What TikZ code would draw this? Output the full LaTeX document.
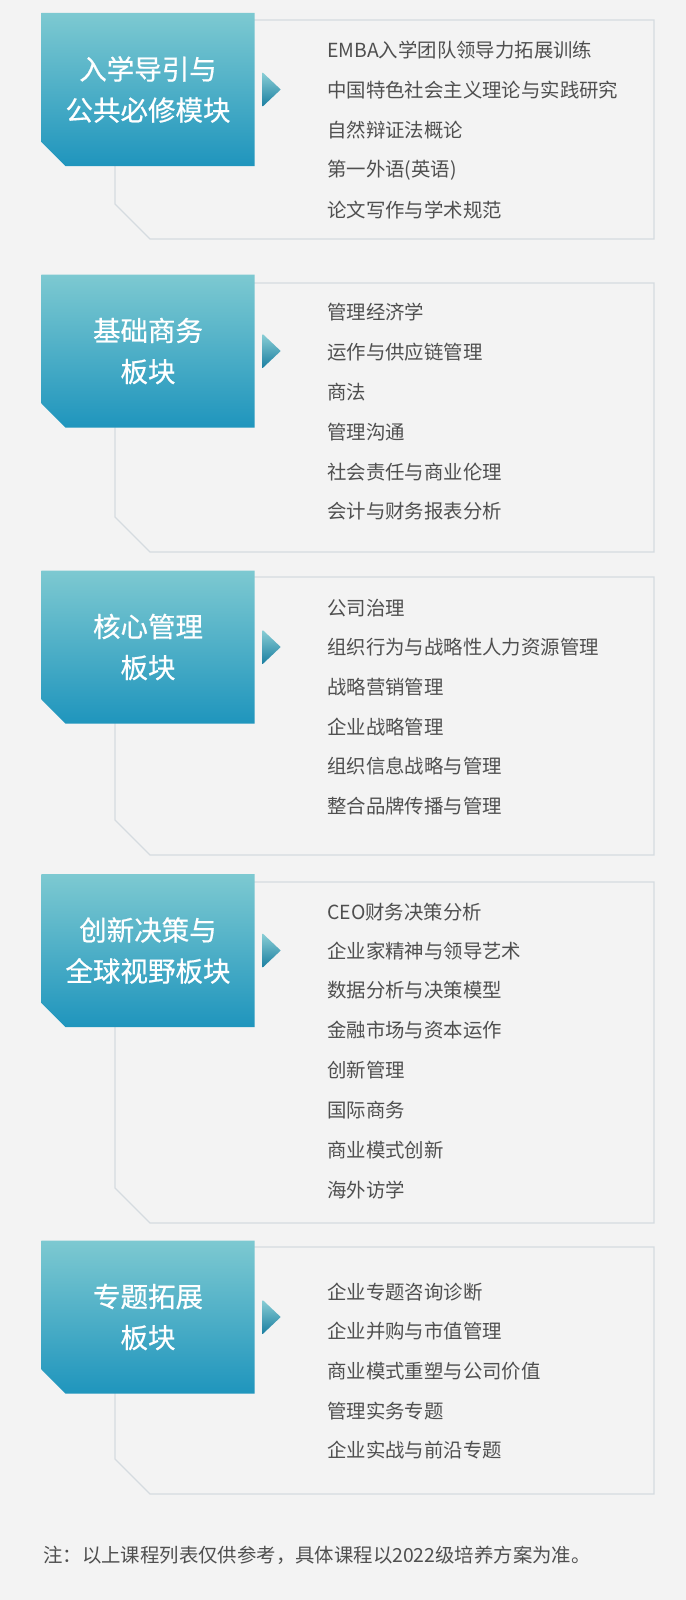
\documentclass[tikz,border=0pt]{standalone}
\usepackage{fontspec}
\setmainfont{Noto Sans CJK SC}
\newfontfamily\titlefont{Noto Sans CJK SC}[FakeBold=0.6]
\usetikzlibrary{shapes.misc,calc}
\definecolor{bggray}{HTML}{F3F3F3}
\definecolor{panelgray}{HTML}{D5DBE0}
\definecolor{tealtop}{HTML}{7DC9D1}
\definecolor{tealbot}{HTML}{1F95BD}
\definecolor{coursegray}{HTML}{4F4F4F}

\begin{document}
\begin{tikzpicture}[x=1bp, y=-1bp,
    every node/.style={inner sep=0pt},
    module/.style={chamfered rectangle, chamfered rectangle corners=south west,
        chamfered rectangle sep=12bp, minimum width=213bp, minimum height=153bp,
        top color=tealtop, bottom color=tealbot, text=white, align=center,
        font=\titlefont\fontsize{27.5bp}{41bp}\selectfont},
    course/.style={anchor=west, text=coursegray, font=\fontsize{19.4bp}{23bp}\selectfont},
    panel/.style={draw=panelgray, line width=1.2bp},
    pointer/.style={top color=tealtop!90!white, bottom color=tealbot!85!black}
]
\useasboundingbox (0,0) rectangle (686,1600);
\fill[bggray] (0,0) rectangle (686,1600);

% (1)
\draw[panel] (250,20) -- (654,20) -- (654,239) -- (150,239) -- (115,204) -- (115,162);
\node[module] (T1) at (148,89.5) {入学导引与\\公共必修模块};
\shade[pointer] ($(T1.east)+(8,-17)$) -- ($(T1.east)+(26,0)$) -- ($(T1.east)+(8,17)$) -- cycle;
\node[course] (a1) at (327,50) {EMBA入学团队领导力拓展训练};
\node[course] (b1) at (327,90) {中国特色社会主义理论与实践研究};
\node[course] (c1) at (327,130) {自然辩证法概论};
\node[course] (d1) at (327,170) {第一外语(英语)};
\node[course] (e1) at (327,210) {论文写作与学术规范};

% (2)
\draw[panel] (250,283) -- (654,283) -- (654,552) -- (150,552) -- (115,517) -- (115,423);
\node[module] (T2) at (148,351) {基础商务\\板块};
\shade[pointer] ($(T2.east)+(8,-17)$) -- ($(T2.east)+(26,0)$) -- ($(T2.east)+(8,17)$) -- cycle;
\node[course] (a2) at (327,312) {管理经济学};
\node[course] (b2) at (327,352) {运作与供应链管理};
\node[course] (c2) at (327,392) {商法};
\node[course] (d2) at (327,432) {管理沟通};
\node[course] (e2) at (327,472) {社会责任与商业伦理};
\node[course] (f2) at (327,511) {会计与财务报表分析};

% (3)
\draw[panel] (250,577) -- (654,577) -- (654,855) -- (150,855) -- (115,820) -- (115,719);
\node[module] (T3) at (148,647) {核心管理\\板块};
\shade[pointer] ($(T3.east)+(8,-17)$) -- ($(T3.east)+(26,0)$) -- ($(T3.east)+(8,17)$) -- cycle;
\node[course] (a3) at (327,608) {公司治理};
\node[course] (b3) at (327,647) {组织行为与战略性人力资源管理};
\node[course] (c3) at (327,687) {战略营销管理};
\node[course] (d3) at (327,727) {企业战略管理};
\node[course] (e3) at (327,766) {组织信息战略与管理};
\node[course] (f3) at (327,806) {整合品牌传播与管理};

% (4)
\draw[panel] (250,882) -- (654,882) -- (654,1223) -- (150,1223) -- (115,1188) -- (115,1023);
\node[module] (T4) at (148,950.5) {创新决策与\\全球视野板块};
\shade[pointer] ($(T4.east)+(8,-17)$) -- ($(T4.east)+(26,0)$) -- ($(T4.east)+(8,17)$) -- cycle;
\node[course] (a4) at (327,912) {CEO财务决策分析};
\node[course] (b4) at (327,951) {企业家精神与领导艺术};
\node[course] (c4) at (327,990) {数据分析与决策模型};
\node[course] (d4) at (327,1030) {金融市场与资本运作};
\node[course] (e4) at (327,1070) {创新管理};
\node[course] (f4) at (327,1110) {国际商务};
\node[course] (g4) at (327,1150) {商业模式创新};
\node[course] (h4) at (327,1190) {海外访学};

% (5)
\draw[panel] (250,1247) -- (654,1247) -- (654,1494) -- (150,1494) -- (115,1459) -- (115,1389);
\node[module] (T5) at (148,1317) {专题拓展\\板块};
\shade[pointer] ($(T5.east)+(8,-17)$) -- ($(T5.east)+(26,0)$) -- ($(T5.east)+(8,17)$) -- cycle;
\node[course] (a5) at (327,1292) {企业专题咨询诊断};
\node[course] (b5) at (327,1331) {企业并购与市值管理};
\node[course] (c5) at (327,1371) {商业模式重塑与公司价值};
\node[course] (d5) at (327,1411) {管理实务专题};
\node[course] (e5) at (327,1450) {企业实战与前沿专题};

% note
\node[course] (n1) at (43,1555) {注：以上课程列表仅供参考，具体课程以2022级培养方案为准。};

\end{tikzpicture}
\end{document}
